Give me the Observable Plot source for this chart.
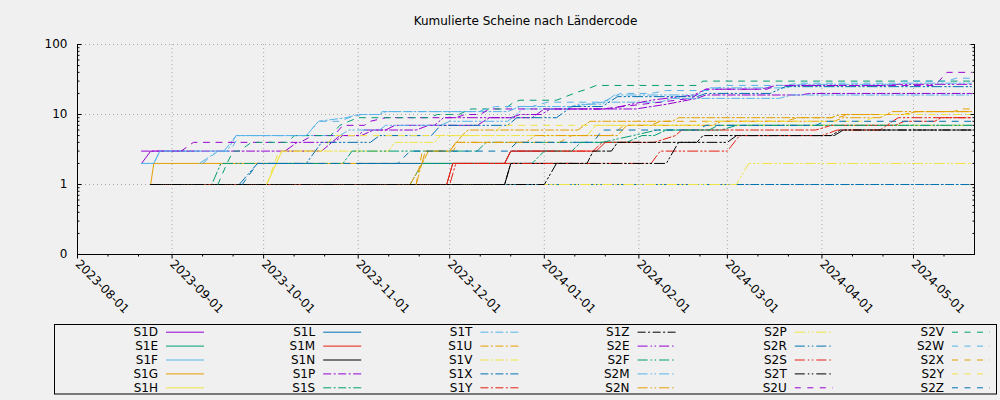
<!DOCTYPE html>
<html><head><meta charset="utf-8">
<script src="https://cdn.jsdelivr.net/npm/d3@7"></script>
<script src="https://cdn.jsdelivr.net/npm/@observablehq/plot@0.6"></script>
<style>
html,body{margin:0;padding:0;background:#f0f0f0;}
body{width:1000px;height:400px;overflow:hidden;position:relative;font-family:"DejaVu Sans",sans-serif;}
#title{position:absolute;left:77px;width:897px;top:14px;line-height:15px;font-size:12px;text-align:center;color:#000;}
#chart{position:absolute;left:0;top:30px;}
#legend{position:absolute;left:0;top:320px;}
</style></head><body>
<div id="title">Kumulierte Scheine nach Ländercode</div>
<div id="chart"></div>
<div id="legend"></div>
<script>
// ---- data ----
const seriesNames = ["S1D","S1E","S1F","S1G","S1H","S1L","S1M","S1N","S1P","S1S","S1T","S1U","S1V","S1X","S1Y","S1Z","S2E","S2F","S2M","S2N","S2P","S2R","S2S","S2T","S2U","S2V","S2W","S2X","S2Y","S2Z"];
const S1D = "2023-08-22:2 2023-08-25:3 2023-09-05:3";
const S1E = "2023-08-25:1 2023-09-16:1";
const S1F = "2023-08-22:2 2023-08-26:2 2023-08-28:3 2023-09-10:3";
const S1G = "2023-08-25:1 2023-08-26:2 2023-12-18:2";
const S1H = "2023-10-02:1 2023-10-07:3 2023-10-20:3";
const S1L = "2023-11-01:2 2023-12-19:2 2023-12-21:3 2024-01-05:3";
const S1M = "2023-08-25:1 2023-11-30:1 2023-12-02:2 2023-12-19:2 2023-12-21:3 2024-01-18:3 2024-01-21:4 2024-02-01:4";
const S1N = "2023-11-01:1 2023-12-19:1 2023-12-21:2 2024-01-10:2";
const S1P = "2023-08-22:3 2023-10-20:3 2023-10-26:5 2023-11-02:5 2023-11-06:6 2023-11-20:6 2023-11-24:7 2023-12-10:7 2023-12-14:9 2023-12-28:9 2024-01-01:12 2024-01-31:12 2024-02-10:14 2024-02-20:17 2024-02-23:19 2024-03-25:19 2024-03-28:20 2024-05-20:20";
const S1S = "2023-08-25:1 2023-11-18:1 2023-11-22:2 2023-12-28:2 2024-01-01:3 2024-01-10:3 2024-01-13:4 2024-01-28:4 2024-02-02:5 2024-02-06:5 2024-02-10:6 2024-02-28:6 2024-03-04:7 2024-05-20:7";
const S1T = "2023-08-22:2 2023-08-26:2 2023-08-28:3 2023-09-18:3 2023-09-22:5 2023-10-15:5 2023-10-19:8 2023-10-28:9 2023-11-01:10 2023-11-08:10 2023-11-10:11 2023-12-20:11 2023-12-24:13 2024-01-10:13 2024-01-20:15 2024-02-08:15 2024-02-12:17 2024-03-18:17 2024-03-22:19 2024-05-20:19";
const S1U = "2023-11-18:1 2023-11-22:2 2023-11-24:3 2023-12-01:3 2023-12-05:5 2023-12-07:6 2024-01-12:6 2024-01-16:8 2024-02-12:8 2024-02-14:9 2024-04-04:9 2024-04-07:10 2024-04-28:10 2024-05-02:11 2024-05-20:11";
const S1V = "2023-08-25:1 2023-10-02:1 2023-10-07:3 2023-11-11:3 2023-11-13:4 2023-11-26:4 2023-11-28:5 2024-01-15:5 2024-01-18:7 2024-05-20:7";
const S1X = "2023-08-25:1 2024-05-20:1";
const S1Y = "2023-08-25:1 2023-11-30:1 2023-12-02:2 2023-12-19:2 2023-12-21:3 2024-01-17:3 2024-01-20:4 2024-02-06:4 2024-02-13:5 2024-02-15:6 2024-03-30:6 2024-04-04:7 2024-04-25:7 2024-04-28:8 2024-05-08:8 2024-05-10:9 2024-05-20:9";
const S1Z = "2023-08-25:1 2023-12-19:1 2023-12-21:2 2024-01-15:2 2024-01-17:3 2024-01-23:3 2024-01-25:4 2024-02-20:4 2024-02-22:5 2024-04-04:5 2024-04-07:6 2024-05-20:6";
const S2E = "2023-10-08:3 2023-10-12:4 2023-10-24:4 2023-10-27:5 2023-11-01:5 2023-11-03:6 2023-11-10:6 2023-11-13:7 2023-11-26:7 2023-11-29:9 2023-12-21:9 2023-12-24:10 2023-12-31:10 2024-01-03:12 2024-01-22:12 2024-02-05:16 2024-02-19:19 2024-02-23:23 2024-03-12:23 2024-03-17:26 2024-04-22:26 2024-04-26:27 2024-05-20:27";
const S2F = "2023-08-25:1 2023-09-14:1 2023-09-17:2 2023-10-27:2 2023-10-30:3 2023-12-10:3 2023-12-13:4 2024-01-20:4 2024-01-30:5 2024-02-07:6 2024-02-24:6 2024-02-27:7 2024-05-20:7";
const S2M = "2023-09-10:2 2023-09-16:3 2023-09-19:3 2023-09-22:5 2023-10-26:5 2023-10-29:6 2023-11-08:6 2023-11-10:7 2023-11-28:7 2023-12-01:8 2023-12-20:8 2023-12-25:12 2024-01-08:12 2024-01-12:14 2024-01-20:14 2024-01-24:19 2024-02-20:19 2024-02-24:24 2024-03-20:24 2024-03-25:27 2024-04-25:27 2024-04-28:28 2024-05-20:28";
const S2N = "2023-11-20:1 2023-11-23:3 2023-12-01:3 2023-12-03:4 2023-12-26:4 2023-12-29:5 2024-01-25:5 2024-01-28:7 2024-02-25:7 2024-02-28:8 2024-04-05:8 2024-04-08:9 2024-04-20:9 2024-04-24:11 2024-05-20:11";
const S2P = "2023-08-25:1 2024-03-04:1 2024-03-08:2 2024-05-20:2";
const S2R = "2023-09-23:1 2023-09-29:2 2023-10-15:2 2023-10-20:4 2023-11-05:4 2023-11-08:5 2023-11-25:5 2023-11-28:7 2023-12-20:7 2023-12-23:9 2024-01-05:9 2024-01-10:13 2024-01-20:13 2024-01-25:18 2024-02-20:18 2024-02-23:20 2024-03-15:20 2024-03-20:25 2024-05-20:25";
const S2S = "2023-08-25:1 2023-12-01:1 2023-12-03:2 2024-02-05:2 2024-02-08:3 2024-03-01:3 2024-03-05:5 2024-04-01:5 2024-04-06:6 2024-04-20:6 2024-04-26:9 2024-05-20:9";
const S2T = "2023-08-25:1 2024-01-01:1 2024-01-05:2 2024-02-10:2 2024-02-14:4 2024-03-01:4 2024-03-04:5 2024-04-05:5 2024-04-08:6 2024-05-20:6";
const S2U = "2023-09-04:3 2023-09-08:4 2023-10-13:4 2023-10-17:5 2023-10-24:5 2023-10-27:7 2023-11-03:7 2023-11-05:8 2023-11-10:9 2023-12-03:9 2023-12-06:10 2023-12-11:10 2023-12-14:12 2024-01-20:12 2024-02-08:15 2024-02-18:17 2024-02-23:23 2024-03-14:23 2024-03-17:26 2024-05-08:26 2024-05-12:40 2024-05-20:40";
const S2V = "2023-09-16:1 2023-09-19:2 2023-09-21:3 2023-09-23:3 2023-09-27:4 2023-10-09:4 2023-10-11:5 2023-10-23:5 2023-10-26:7 2023-10-29:8 2023-11-01:9 2023-11-24:9 2023-11-27:10 2023-12-04:10 2023-12-06:11 2023-12-08:12 2023-12-19:12 2023-12-22:15 2023-12-24:16 2024-01-05:16 2024-01-08:18 2024-01-12:21 2024-01-15:23 2024-01-18:26 2024-02-20:26 2024-02-22:30 2024-05-20:30";
const S2W = "2023-09-11:2 2023-09-16:3 2023-09-20:3 2023-09-23:5 2023-10-15:5 2023-10-19:8 2023-10-26:8 2023-10-29:9 2023-11-02:10 2023-11-07:10 2023-11-09:11 2023-12-10:11 2023-12-16:13 2023-12-28:13 2024-01-02:15 2024-01-20:15 2024-01-26:20 2024-02-05:20 2024-02-10:22 2024-02-24:22 2024-03-01:26 2024-03-20:26 2024-03-24:28 2024-04-25:28 2024-04-28:30 2024-05-12:30 2024-05-15:33 2024-05-20:33";
const S2X = "2023-11-20:1 2023-11-22:3 2023-12-02:3 2023-12-04:4 2024-01-06:4 2024-01-10:5 2024-01-23:5 2024-01-27:7 2024-02-05:7 2024-02-08:8 2024-03-20:8 2024-03-24:9 2024-04-06:9 2024-04-10:10 2024-04-28:10 2024-05-02:11 2024-05-14:11 2024-05-17:12 2024-05-20:12";
const S2Y = "2023-10-02:1 2023-10-06:3 2023-10-20:3 2023-10-24:5 2023-12-15:5 2023-12-18:7 2024-02-20:7 2024-02-24:8 2024-04-15:8 2024-04-20:10 2024-05-20:10";
const S2Z = "2023-09-24:1 2023-09-29:2 2023-11-14:2 2023-11-18:3 2023-12-20:3 2023-12-23:4 2024-01-17:4 2024-01-20:6 2024-02-20:6 2024-02-23:7 2024-03-30:7 2024-04-02:8 2024-05-20:8";
const seriesStrings = [S1D,S1E,S1F,S1G,S1H,S1L,S1M,S1N,S1P,S1S,S1T,S1U,S1V,S1X,S1Y,S1Z,S2E,S2F,S2M,S2N,S2P,S2R,S2S,S2T,S2U,S2V,S2W,S2X,S2Y,S2Z];

const xTicks = ["2023-08-01","2023-09-01","2023-10-01","2023-11-01","2023-12-01","2024-01-01","2024-02-01","2024-03-01","2024-04-01","2024-05-01"];
const xDomain = ["2023-08-01","2024-05-21"];
const yTickValues = [0, 1, 10, 100];
const yTickLabels = ["0", "1", "10", "100"];
const yMinorFactors = [2,3,4,5,6,7,8,9];

// ---- styles ----
const palette = ["#9400d3","#009e73","#56b4e9","#e69f00","#f0e442","#0072b2","#e51e10","#000000"];
const dashGroups = [undefined, "8,2.5,2,2.5", "10,3,1.5,2.5,1.5,3", "6,6.5"];

// ---- helpers ----
const symT = v => v <= 1 ? v : 1 + Math.log10(v);
const parseSeries = s => s.trim().split(/\s+/).map(p => { const [d, v] = p.split(":"); return {date: new Date(d), value: +v}; });
const series = seriesNames.map((name, i) => ({name, points: parseSeries(seriesStrings[i]), color: palette[i % 8], dash: dashGroups[Math.floor(i / 8)]}));

const xTickDates = xTicks.map(d => new Date(d));
const xMinorDates = xTickDates.flatMap(d => [d3.utcDay.offset(d, 10), d3.utcDay.offset(d, 20)]).filter(d => d < new Date(xDomain[1]));
const yTickPos = yTickValues.map(symT);
const yMinorPos = [0, 1, 2].flatMap(n => yMinorFactors.map(k => n + Math.log10(k)));
const labelOf = t => yTickLabels[yTickPos.findIndex(p => Math.abs(p - t) < 1e-9)];

const gridStyle = {stroke: "#a8a8a8", strokeOpacity: 1, strokeDasharray: "1,3", strokeWidth: 1};

const chart = Plot.plot({
  width: 1000,
  height: 290,
  marginTop: 14,
  marginBottom: 66,
  marginLeft: 77,
  marginRight: 26,
  style: {background: "transparent", fontFamily: "DejaVu Sans, sans-serif", fontSize: "12px", color: "#000", overflow: "visible"},
  x: {type: "utc", domain: xDomain.map(d => new Date(d))},
  y: {type: "linear", domain: [0, 3]},
  marks: [
    Plot.gridX(xTickDates, gridStyle),
    Plot.gridY(yTickPos.slice(1), gridStyle),
    ...series.map(s => Plot.line(s.points, {x: "date", y: d => symT(d.value), stroke: s.color, strokeWidth: 1, strokeDasharray: s.dash})),
    Plot.ruleX([new Date(xDomain[0]), new Date(xDomain[1])], {stroke: "#000", strokeWidth: 1}),
    Plot.ruleY([0], {stroke: "#000", strokeWidth: 1}),
    Plot.axisY(yTickPos, {anchor: "left", tickSize: 0, tickPadding: 10, tickFormat: labelOf, label: null, fill: "#000"}),
    Plot.axisY(yTickPos, {anchor: "left", tickSize: -4.5, tickFormat: () => "", label: null}),
    Plot.axisY(yMinorPos, {anchor: "left", tickSize: -2.5, tickFormat: () => "", label: null}),
    Plot.axisY(yTickPos, {anchor: "right", tickSize: -4.5, tickFormat: () => "", label: null}),
    Plot.axisY(yMinorPos, {anchor: "right", tickSize: -2.5, tickFormat: () => "", label: null}),
    Plot.axisX(xTickDates, {anchor: "bottom", tickSize: 4.5, tickPadding: 3, tickRotate: 45, textAnchor: "start", tickFormat: d3.utcFormat("%Y-%m-%d"), label: null, fill: "#000"}),
    Plot.axisX(xMinorDates, {anchor: "bottom", tickSize: 2.5, tickFormat: () => "", label: null})
  ]
});
document.getElementById("chart").appendChild(chart);

// ---- legend ----
const lg = d3.select("#legend").append("svg").attr("width", 1000).attr("height", 80)
  .style("font-family", "DejaVu Sans, sans-serif").style("font-size", "12px");
lg.append("rect").attr("x", 54.5).attr("y", 4.5).attr("width", 942).attr("height", 69.5)
  .attr("fill", "none").attr("stroke", "#000").attr("stroke-width", 1);
series.forEach((s, i) => {
  const c = Math.floor(i / 5), r = i % 5;
  const xr = 158 + 157.2 * c, y = 11.7 + 13.9 * r;
  lg.append("text").attr("x", xr).attr("y", y).attr("dy", "0.36em").attr("text-anchor", "end").attr("fill", "#000").text(s.name);
  lg.append("line").attr("x1", xr + 8).attr("x2", xr + 46).attr("y1", y + 0.5).attr("y2", y + 0.5)
    .attr("stroke", s.color).attr("stroke-width", 1).attr("stroke-dasharray", s.dash || null);
});
</script>
</body></html>
